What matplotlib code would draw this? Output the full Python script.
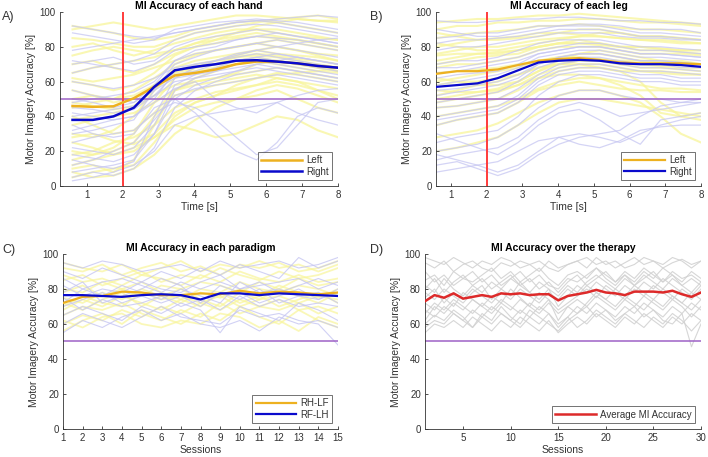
import matplotlib
matplotlib.use("Agg")
import matplotlib.pyplot as plt
import numpy as np

plt.rcParams['font.family'] = ['Liberation Sans', 'DejaVu Sans']

# ---------------- DATA ----------------
time_s = [0.6, 1.17, 1.74, 2.31, 2.88, 3.45, 4.02, 4.59, 5.16, 5.73, 6.3, 6.87, 7.44, 8.0]

hand_left_mean = [46, 45.5, 45.8, 50.5, 57, 63.5, 65, 67, 70, 71.5, 71.5, 70.5, 69, 68]
hand_right_mean = [38, 38, 40, 45, 57, 66.5, 68.5, 70, 72, 72.3, 71.5, 70.5, 69, 68]

leg_left_mean = [64.5, 66, 66, 67, 69.5, 72, 73, 73.5, 72.5, 71, 70.5, 70.5, 70.5, 70]
leg_right_mean = [57, 58, 59, 62, 66.5, 71, 72, 72.5, 72, 70.5, 70, 70, 69.5, 68.5]

hand_left_trials = [
    [10, 12, 8, 15, 35, 55, 60, 62, 65, 70, 72, 70, 68, 66],
    [20, 18, 22, 30, 48, 62, 68, 70, 74, 76, 75, 73, 72, 70],
    [45, 48, 50, 55, 62, 70, 75, 78, 80, 82, 80, 78, 76, 75],
    [60, 58, 55, 58, 65, 75, 80, 82, 85, 86, 85, 84, 82, 80],
    [80, 82, 78, 75, 78, 82, 85, 88, 90, 90, 88, 86, 85, 84],
    [30, 28, 32, 40, 55, 65, 68, 72, 75, 78, 76, 75, 74, 72],
    [5, 8, 10, 12, 25, 40, 48, 52, 58, 62, 65, 64, 62, 60],
    [92, 90, 88, 85, 84, 86, 90, 92, 94, 95, 94, 92, 90, 88],
    [50, 52, 48, 50, 58, 66, 70, 72, 74, 75, 74, 72, 70, 68],
    [38, 40, 42, 45, 52, 58, 60, 62, 64, 66, 68, 66, 64, 62],
    [65, 68, 70, 72, 74, 78, 82, 84, 86, 88, 86, 84, 82, 80],
    [15, 18, 20, 25, 40, 52, 55, 58, 60, 62, 64, 65, 66, 68],
    [25, 22, 18, 20, 28, 38, 45, 48, 50, 52, 55, 50, 45, 42],
    [55, 52, 50, 52, 58, 64, 66, 68, 72, 74, 72, 70, 68, 66],
    [70, 72, 68, 65, 70, 76, 80, 84, 88, 92, 94, 96, 95, 94],
    [40, 35, 30, 32, 42, 55, 62, 66, 70, 72, 70, 68, 66, 65],
    [8, 5, 6, 10, 18, 30, 38, 45, 50, 55, 58, 56, 52, 48],
    [85, 84, 82, 80, 80, 84, 88, 90, 92, 94, 96, 97, 98, 96],
    [48, 46, 44, 46, 55, 68, 72, 74, 76, 78, 80, 78, 75, 72],
    [35, 38, 40, 42, 48, 55, 58, 60, 62, 64, 62, 60, 58, 56],
    [62, 60, 62, 64, 68, 72, 76, 78, 80, 82, 84, 82, 80, 78],
    [18, 20, 25, 28, 35, 45, 50, 54, 56, 58, 60, 58, 55, 52],
    [75, 78, 80, 78, 76, 78, 82, 86, 88, 90, 90, 88, 86, 84],
    [28, 30, 26, 24, 30, 42, 48, 52, 55, 58, 62, 60, 55, 50],
    [12, 15, 18, 22, 28, 35, 32, 28, 30, 35, 40, 38, 32, 28],
    [90, 92, 94, 92, 90, 92, 94, 96, 98, 98, 97, 96, 95, 95],
]

hand_right_trials = [
    [15, 12, 10, 14, 40, 62, 68, 72, 76, 78, 76, 74, 72, 70],
    [30, 32, 35, 38, 55, 70, 74, 78, 80, 82, 80, 78, 76, 74],
    [50, 48, 45, 48, 58, 72, 78, 80, 84, 86, 85, 84, 82, 80],
    [88, 86, 84, 82, 84, 90, 92, 94, 95, 96, 95, 94, 92, 90],
    [5, 8, 6, 10, 22, 45, 55, 60, 64, 66, 68, 66, 64, 62],
    [42, 40, 38, 40, 50, 66, 70, 72, 74, 76, 74, 72, 70, 68],
    [70, 72, 74, 70, 72, 80, 84, 86, 88, 90, 88, 86, 84, 82],
    [22, 20, 18, 22, 35, 58, 64, 68, 72, 74, 72, 70, 68, 66],
    [60, 58, 56, 58, 62, 68, 70, 72, 75, 78, 80, 82, 84, 85],
    [35, 30, 28, 30, 45, 50, 42, 30, 20, 15, 25, 40, 45, 42],
    [12, 15, 20, 25, 38, 52, 56, 58, 60, 62, 64, 62, 60, 58],
    [78, 80, 82, 84, 86, 88, 90, 92, 94, 95, 96, 97, 98, 97],
    [48, 50, 52, 54, 60, 72, 76, 78, 80, 82, 84, 82, 80, 78],
    [25, 28, 30, 32, 42, 48, 45, 38, 28, 18, 22, 35, 48, 50],
    [55, 52, 50, 48, 55, 62, 64, 66, 68, 70, 68, 66, 64, 62],
    [8, 10, 12, 15, 30, 55, 62, 66, 70, 72, 70, 68, 66, 64],
    [65, 68, 70, 72, 76, 84, 88, 90, 92, 93, 92, 90, 88, 86],
    [40, 42, 44, 46, 52, 60, 62, 64, 66, 68, 66, 64, 62, 60],
    [92, 90, 88, 86, 85, 88, 90, 92, 94, 95, 94, 92, 90, 88],
    [18, 16, 14, 18, 30, 50, 58, 62, 66, 70, 72, 74, 72, 70],
    [32, 35, 38, 40, 48, 56, 60, 50, 45, 42, 48, 52, 55, 56],
    [72, 70, 68, 66, 70, 78, 80, 82, 84, 86, 88, 86, 84, 82],
    [45, 44, 42, 44, 52, 64, 66, 70, 72, 74, 76, 74, 72, 70],
    [3, 5, 8, 12, 20, 35, 40, 42, 44, 46, 48, 42, 38, 35],
]

leg_left_trials = [
    [94, 95, 96, 96, 97, 98, 98, 99, 98, 97, 96, 95, 94, 93],
    [80, 82, 84, 85, 86, 88, 88, 87, 86, 85, 84, 84, 83, 82],
    [65, 66, 67, 68, 70, 72, 74, 74, 73, 72, 72, 71, 70, 70],
    [50, 52, 54, 56, 60, 66, 70, 72, 72, 70, 68, 68, 67, 66],
    [35, 38, 40, 42, 48, 55, 58, 60, 58, 56, 55, 55, 54, 54],
    [20, 22, 25, 28, 35, 42, 48, 50, 50, 48, 46, 44, 42, 40],
    [72, 74, 76, 76, 78, 80, 82, 84, 82, 80, 78, 78, 77, 76],
    [88, 86, 84, 84, 85, 86, 88, 90, 90, 88, 86, 86, 85, 84],
    [58, 60, 60, 62, 64, 68, 70, 70, 68, 66, 66, 65, 64, 64],
    [45, 46, 48, 50, 55, 62, 66, 68, 68, 66, 60, 48, 40, 38],
    [76, 78, 80, 80, 82, 84, 85, 86, 86, 85, 84, 83, 82, 82],
    [62, 60, 58, 58, 60, 66, 72, 76, 78, 76, 74, 72, 72, 70],
    [28, 30, 32, 36, 42, 48, 52, 55, 55, 52, 48, 40, 30, 25],
    [90, 92, 92, 94, 94, 95, 95, 96, 96, 95, 94, 94, 93, 92],
    [68, 70, 70, 72, 74, 78, 80, 80, 80, 78, 76, 76, 76, 75],
    [55, 54, 54, 55, 58, 64, 68, 70, 70, 68, 66, 66, 65, 64],
    [82, 80, 78, 78, 80, 82, 84, 86, 88, 88, 86, 86, 85, 84],
    [40, 42, 44, 46, 50, 56, 60, 62, 62, 60, 58, 56, 56, 55],
    [70, 72, 74, 75, 76, 80, 82, 82, 82, 80, 80, 79, 78, 78],
    [60, 62, 64, 66, 68, 72, 74, 76, 76, 74, 72, 72, 71, 70],
    [85, 87, 88, 89, 90, 92, 92, 93, 92, 91, 90, 90, 89, 88],
    [48, 50, 52, 54, 58, 62, 64, 64, 62, 58, 52, 42, 40, 42],
    [75, 76, 76, 77, 78, 80, 82, 82, 81, 80, 80, 79, 78, 78],
    [52, 55, 58, 60, 64, 68, 70, 72, 72, 70, 70, 69, 68, 68],
]

leg_right_trials = [
    [8, 10, 12, 8, 12, 20, 28, 30, 28, 25, 30, 35, 38, 40],
    [15, 18, 20, 22, 28, 38, 45, 48, 45, 40, 42, 44, 46, 48],
    [25, 28, 30, 32, 40, 52, 60, 64, 64, 62, 60, 60, 58, 58],
    [40, 42, 44, 46, 52, 62, 68, 70, 70, 68, 66, 66, 65, 64],
    [55, 56, 58, 60, 64, 70, 74, 76, 76, 74, 72, 72, 71, 70],
    [70, 72, 72, 74, 78, 82, 84, 84, 84, 82, 80, 80, 79, 78],
    [85, 86, 88, 88, 90, 92, 92, 93, 93, 92, 90, 90, 90, 88],
    [95, 94, 94, 95, 96, 96, 97, 97, 96, 95, 95, 94, 94, 93],
    [30, 26, 22, 18, 25, 35, 42, 44, 38, 30, 24, 38, 40, 42],
    [48, 50, 52, 54, 60, 68, 72, 74, 74, 72, 70, 70, 68, 68],
    [62, 64, 65, 66, 70, 76, 78, 80, 80, 78, 76, 76, 75, 74],
    [78, 80, 80, 82, 84, 86, 88, 88, 88, 86, 85, 85, 84, 84],
    [12, 14, 10, 6, 10, 18, 24, 28, 30, 32, 40, 46, 48, 50],
    [35, 38, 40, 42, 48, 58, 64, 66, 66, 64, 62, 62, 60, 60],
    [58, 60, 62, 64, 68, 74, 76, 78, 78, 76, 74, 74, 73, 72],
    [90, 88, 86, 86, 88, 90, 92, 92, 92, 90, 88, 88, 87, 86],
    [20, 22, 24, 28, 35, 45, 52, 55, 55, 52, 50, 50, 48, 48],
    [45, 46, 48, 50, 56, 64, 70, 72, 72, 70, 68, 68, 67, 66],
    [68, 68, 70, 72, 74, 78, 80, 82, 82, 80, 78, 78, 77, 76],
    [82, 84, 84, 85, 86, 88, 90, 90, 90, 88, 86, 86, 85, 84],
    [52, 54, 56, 58, 62, 70, 74, 76, 76, 74, 72, 72, 71, 70],
    [18, 15, 12, 14, 20, 26, 28, 24, 22, 26, 32, 34, 35, 35],
    [65, 66, 68, 70, 72, 76, 78, 80, 80, 78, 76, 76, 75, 74],
    [38, 40, 42, 44, 50, 60, 66, 68, 68, 66, 64, 64, 62, 62],
]

sessions_c = list(range(1, 16))
rhlf_mean = [72, 75.5, 76, 78.5, 78, 76.5, 76.5, 77.5, 77, 79, 77.5, 78.5, 78, 77, 78]
rflh_mean = [76.5, 76.5, 76, 75.5, 76.5, 77, 76.5, 74, 77.5, 77.5, 76.5, 77.5, 77, 76.5, 76]

rhlf_subjects = [
    [60, 65, 62, 68, 64, 70, 66, 72, 68, 74, 70, 68, 72, 66, 70],
    [85, 88, 82, 86, 90, 84, 88, 86, 92, 88, 85, 90, 86, 88, 92],
    [75, 72, 78, 74, 80, 76, 72, 78, 75, 80, 76, 82, 78, 75, 80],
    [68, 74, 70, 76, 72, 68, 74, 70, 78, 72, 76, 70, 74, 78, 72],
    [92, 90, 94, 88, 92, 95, 90, 93, 88, 94, 92, 95, 90, 92, 96],
    [56, 62, 66, 60, 68, 64, 60, 66, 62, 70, 64, 60, 68, 62, 58],
    [80, 78, 84, 80, 76, 82, 80, 84, 82, 78, 84, 80, 86, 82, 84],
    [72, 68, 74, 78, 70, 76, 80, 74, 70, 78, 74, 80, 76, 72, 78],
    [65, 70, 68, 72, 66, 62, 68, 64, 72, 66, 70, 74, 68, 70, 66],
    [88, 84, 86, 82, 88, 86, 82, 88, 84, 90, 86, 84, 88, 84, 86],
    [78, 82, 76, 80, 84, 78, 74, 80, 78, 84, 80, 78, 82, 80, 76],
    [62, 58, 64, 66, 60, 58, 62, 60, 66, 64, 58, 62, 56, 64, 60],
    [95, 92, 90, 94, 88, 92, 96, 90, 94, 92, 96, 92, 94, 90, 94],
    [70, 76, 72, 70, 78, 74, 76, 72, 76, 70, 74, 76, 72, 76, 74],
]

rflh_subjects = [
    [55, 62, 58, 64, 68, 62, 66, 60, 58, 62, 56, 64, 60, 62, 58],
    [90, 86, 92, 88, 84, 90, 86, 92, 88, 94, 90, 86, 98, 92, 96],
    [72, 80, 76, 82, 78, 74, 80, 76, 72, 84, 78, 80, 76, 74, 80],
    [65, 70, 66, 62, 70, 66, 72, 68, 55, 70, 66, 62, 72, 68, 62],
    [82, 76, 80, 78, 84, 80, 78, 84, 88, 80, 84, 78, 82, 86, 82],
    [95, 92, 96, 94, 90, 92, 94, 90, 96, 92, 94, 96, 92, 94, 98],
    [60, 66, 62, 58, 64, 70, 64, 62, 60, 68, 64, 66, 62, 60, 48],
    [78, 84, 72, 76, 80, 86, 82, 72, 82, 78, 72, 76, 80, 74, 78],
    [86, 80, 84, 86, 82, 78, 84, 80, 84, 80, 82, 84, 86, 80, 84],
    [70, 74, 78, 72, 76, 72, 76, 70, 78, 74, 80, 72, 76, 78, 72],
    [75, 68, 74, 70, 72, 76, 70, 74, 68, 76, 70, 74, 70, 72, 70],
]

sessions_d = list(range(1, 31))
therapy_mean = [73, 76.5, 75, 77.5, 74.5, 75.5, 76.5, 75.5, 77.5, 77, 77.5, 76.5, 77, 77, 73.5,
                76, 77, 78, 79.5, 78, 77.5, 76.5, 78.5, 78.5, 78.5, 78, 79, 77, 75.5, 78]

therapy_subjects = [
    [72, 68, 75, 70, 78, 74, 70, 76, 72, 80, 75, 70, 78, 74, 68, 72, 76, 80, 75, 82, 78, 74, 80, 76, 82, 78, 74, 80, 76, 82],
    [85, 88, 82, 90, 86, 84, 88, 92, 86, 90, 84, 88, 92, 86, 82, 88, 90, 86, 92, 88, 84, 90, 86, 92, 88, 84, 90, 86, 88, 84],
    [60, 65, 62, 68, 64, 58, 66, 62, 70, 64, 60, 68, 64, 60, 56, 62, 66, 70, 64, 68, 62, 66, 70, 64, 68, 62, 60, 66, 47, 60],
    [95, 92, 96, 90, 94, 96, 92, 90, 95, 93, 96, 94, 90, 96, 92, 94, 96, 98, 94, 96, 92, 95, 98, 94, 96, 92, 95, 97, 94, 96],
    [78, 74, 80, 76, 72, 78, 82, 74, 80, 76, 84, 78, 74, 80, 70, 76, 82, 78, 84, 80, 76, 82, 78, 84, 80, 86, 82, 78, 74, 80],
    [66, 72, 68, 74, 70, 66, 72, 68, 74, 70, 66, 72, 68, 74, 62, 70, 66, 72, 78, 74, 70, 76, 72, 68, 74, 70, 76, 72, 68, 74],
    [90, 84, 88, 82, 86, 90, 84, 88, 82, 86, 90, 84, 88, 82, 80, 86, 84, 88, 92, 86, 82, 88, 84, 90, 86, 92, 88, 84, 90, 86],
    [58, 62, 60, 66, 62, 58, 64, 60, 66, 62, 58, 64, 60, 66, 60, 64, 58, 62, 68, 64, 60, 66, 62, 58, 64, 60, 66, 62, 56, 62],
    [75, 80, 72, 78, 74, 80, 76, 72, 78, 74, 80, 76, 72, 78, 74, 80, 76, 82, 78, 74, 80, 76, 82, 78, 74, 80, 76, 72, 78, 74],
    [82, 78, 86, 80, 76, 82, 78, 84, 80, 86, 82, 78, 84, 80, 76, 82, 78, 84, 88, 84, 80, 86, 82, 88, 84, 80, 86, 82, 78, 84],
    [68, 64, 70, 66, 62, 68, 64, 70, 66, 62, 68, 64, 70, 66, 58, 64, 70, 66, 72, 68, 64, 70, 66, 72, 68, 64, 70, 66, 72, 68],
    [98, 96, 94, 98, 95, 92, 96, 94, 98, 96, 92, 94, 96, 92, 90, 94, 96, 92, 98, 94, 96, 92, 94, 98, 96, 94, 98, 96, 92, 96],
    [62, 70, 66, 72, 68, 74, 70, 66, 72, 68, 74, 70, 66, 72, 66, 70, 74, 70, 76, 72, 68, 74, 70, 76, 72, 68, 74, 70, 64, 70],
    [80, 86, 78, 84, 88, 82, 86, 80, 84, 88, 82, 86, 80, 84, 78, 84, 88, 82, 86, 90, 84, 88, 82, 86, 90, 84, 88, 82, 86, 82],
    [55, 60, 58, 62, 58, 64, 60, 56, 62, 58, 64, 60, 56, 62, 55, 60, 64, 60, 66, 62, 58, 64, 60, 66, 62, 58, 64, 60, 66, 62],
]

# ---------------- STYLE ----------------
YEL = '#F8F59A'
LAV = '#C6C6F2'
GRAY_BG = '#D2D2D2'
ORANGE = '#EDB120'
BLUE = '#0A0ACC'
RED_V = '#FF3B3B'
PURPLE = '#9E62C6'
RED_M = '#DD2A2A'
TXT = '#333333'
FS = 7

fig = plt.figure(figsize=(7.08, 4.57), dpi=100)


def style(ax, xlim, xticks, xlabel, title):
    ax.set_ylim(0, 100)
    ax.set_xlim(*xlim)
    ax.set_yticks([0, 20, 40, 60, 80, 100])
    ax.set_xticks(xticks)
    ax.tick_params(direction='in', length=2.5, width=0.6, labelsize=FS, colors=TXT, pad=3)
    for s in ['top', 'right']:
        ax.spines[s].set_visible(False)
    for s in ['left', 'bottom']:
        ax.spines[s].set_color('#333333')
        ax.spines[s].set_linewidth(0.6)
    ax.set_xlabel(xlabel, fontsize=7.5, color=TXT, labelpad=1)
    ax.set_ylabel('Motor Imagery Accuracy [%]', fontsize=7.5, color=TXT, labelpad=3)
    ax.set_title(title, fontsize=7.5, fontweight='bold', color='black', pad=2)


def legend(ax, loc):
    leg = ax.legend(loc=loc, fontsize=FS, frameon=True, fancybox=False, handlelength=4.2,
                    borderpad=0.35, labelspacing=0.15, handletextpad=0.4, borderaxespad=0.6)
    leg.get_frame().set_edgecolor('#333333')
    leg.get_frame().set_linewidth(0.6)
    for t in leg.get_texts():
        t.set_color(TXT)


# Panel A
axA = fig.add_axes([0.0847, 0.593, 0.3927, 0.3807])
for tr in hand_left_trials:
    axA.plot(time_s, tr, color=YEL, lw=1.5, alpha=0.75, zorder=1)
for tr in hand_right_trials:
    axA.plot(time_s, tr, color=LAV, lw=0.9, alpha=0.75, zorder=1)
axA.axhline(50, color=PURPLE, lw=1.1, zorder=2)
axA.axvline(2, color=RED_V, lw=1.4, zorder=2)
axA.plot(time_s, hand_left_mean, color=ORANGE, lw=1.8, label='Left', zorder=3)
axA.plot(time_s, hand_right_mean, color=BLUE, lw=1.8, label='Right', zorder=3)
style(axA, (0.25, 8), [1, 2, 3, 4, 5, 6, 7, 8], 'Time [s]', 'MI Accuracy of each hand')
legend(axA, 'lower right')

# Panel B
axB = fig.add_axes([0.6158, 0.593, 0.3743, 0.3807])
for tr in leg_left_trials:
    axB.plot(time_s, tr, color=YEL, lw=1.5, alpha=0.75, zorder=1)
for tr in leg_right_trials:
    axB.plot(time_s, tr, color=LAV, lw=0.9, alpha=0.75, zorder=1)
axB.axhline(50, color=PURPLE, lw=1.1, zorder=2)
axB.axvline(2, color=RED_V, lw=1.4, zorder=2)
axB.plot(time_s, leg_left_mean, color=ORANGE, lw=1.6, label='Left', zorder=3)
axB.plot(time_s, leg_right_mean, color=BLUE, lw=1.6, label='Right', zorder=3)
style(axB, (0.58, 8), [1, 2, 3, 4, 5, 6, 7, 8], 'Time [s]', 'MI Accuracy of each leg')
legend(axB, 'lower right')

# Panel C
axC = fig.add_axes([0.089, 0.0613, 0.3884, 0.3829])
for tr in rhlf_subjects:
    axC.plot(sessions_c, tr, color=YEL, lw=1.3, alpha=0.7, zorder=1)
for tr in rflh_subjects:
    axC.plot(sessions_c, tr, color=LAV, lw=0.8, alpha=0.8, zorder=1)
axC.axhline(50, color=PURPLE, lw=1.1, zorder=2)
axC.plot(sessions_c, rhlf_mean, color=ORANGE, lw=1.6, label='RH-LF', zorder=3)
axC.plot(sessions_c, rflh_mean, color=BLUE, lw=1.6, label='RF-LH', zorder=3)
style(axC, (1, 15), sessions_c, 'Sessions', 'MI Accuracy in each paradigm')
legend(axC, 'lower right')

# Panel D
axD = fig.add_axes([0.6003, 0.0613, 0.3898, 0.3829])
for tr in therapy_subjects:
    axD.plot(sessions_d, tr, color=GRAY_BG, lw=0.8, alpha=0.9, zorder=1)
axD.axhline(50, color=PURPLE, lw=1.1, zorder=2)
axD.plot(sessions_d, therapy_mean, color=RED_M, lw=1.8, label='Average MI Accuracy', zorder=3)
style(axD, (1, 30), [5, 10, 15, 20, 25, 30], 'Sessions', 'MI Accuracy over the therapy')
legend(axD, 'lower right')

# Panel letters
for lbl, x, y in [('A)', 0.003, 0.977), ('B)', 0.523, 0.977), ('C)', 0.003, 0.465), ('D)', 0.523, 0.465)]:
    fig.text(x, y, lbl, fontsize=9, color=TXT, ha='left', va='top')

fig.savefig('out.png', dpi=100)
